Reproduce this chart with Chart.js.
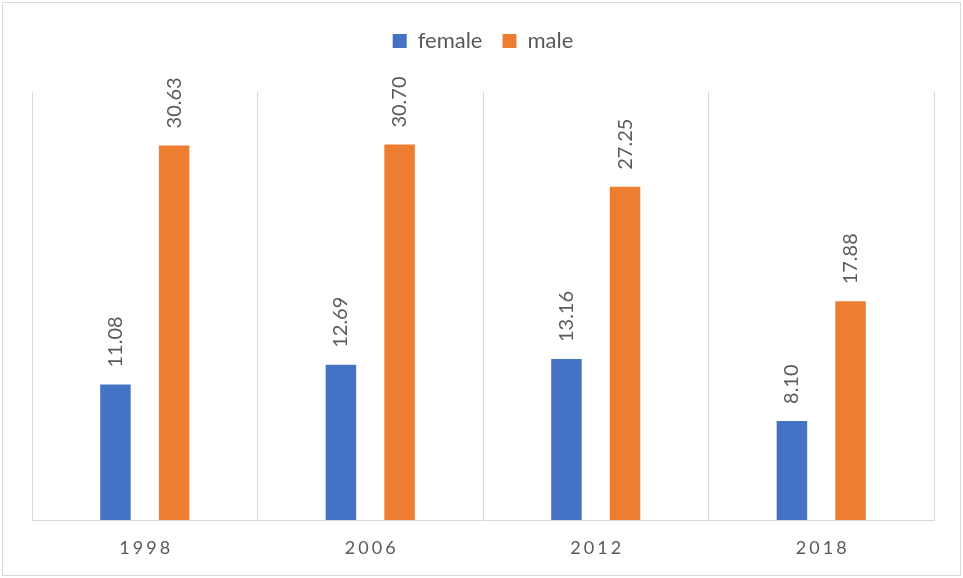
<!DOCTYPE html>
<html>
<head>
<meta charset="utf-8">
<script src="https://cdn.jsdelivr.net/npm/chart.js@4.4.1/dist/chart.umd.min.js"></script>
<style>
  body { margin: 0; background: #fff; }
  canvas { display: block; }
</style>
</head>
<body>
<canvas id="chart" width="963" height="578"></canvas>
<script>
const years = ["1998", "2006", "2012", "2018"];
const female = [11.08, 12.69, 13.16, 8.10];
const male = [30.63, 30.70, 27.25, 17.88];

const textGray = "#595959";
const fontName = "Lato, 'Noto Sans', sans-serif";

// frame around the whole chart, like the Excel chart border
const framePlugin = {
  id: "frame",
  beforeInit(chart) {
    // push the plot area down below the legend
    const fit = chart.legend.fit;
    chart.legend.fit = function () {
      fit.call(this);
      this.height += 30;
    };
  },
  beforeDraw(chart) {
    const ctx = chart.ctx;
    ctx.save();
    ctx.fillStyle = "#fff";
    ctx.fillRect(0, 0, chart.width, chart.height);
    ctx.strokeStyle = "#d9d9d9";
    ctx.lineWidth = 1;
    ctx.strokeRect(2.5, 2.5, chart.width - 5, chart.height - 5);
    ctx.restore();
  }
};

// rotated value labels above bars + spaced year labels
const labelPlugin = {
  id: "labels",
  afterDatasetsDraw(chart) {
    const ctx = chart.ctx;
    ctx.save();
    ctx.fillStyle = textGray;
    ctx.font = "20px " + fontName;
    chart.data.datasets.forEach((ds, i) => {
      chart.getDatasetMeta(i).data.forEach((bar, j) => {
        ctx.save();
        ctx.translate(bar.x, bar.y - 17);
        ctx.rotate(-Math.PI / 2);
        ctx.textAlign = "left";
        ctx.textBaseline = "middle";
        ctx.fillText(ds.data[j].toFixed(2), 0, 0);
        ctx.restore();
      });
    });

    const xs = chart.scales.x;
    ctx.font = "18px " + fontName;
    ctx.letterSpacing = "3px";
    ctx.textAlign = "center";
    ctx.textBaseline = "middle";
    chart.data.labels.forEach((lab, k) => {
      ctx.fillText(lab, xs.getPixelForTick(k) + 1.5, 548);
    });
    ctx.restore();
  }
};

new Chart(document.getElementById("chart"), {
  type: "bar",
  data: {
    labels: years,
    datasets: [
      { label: "female", data: female, backgroundColor: "#4472C4",
        categoryPercentage: 0.52, barPercentage: 0.52 },
      { label: "male", data: male, backgroundColor: "#ED7D31",
        categoryPercentage: 0.52, barPercentage: 0.52 }
    ]
  },
  options: {
    responsive: false,
    animation: false,
    layout: { padding: { left: 32, right: 29, top: 10, bottom: 58 } },
    plugins: {
      legend: {
        position: "top",
        labels: {
          boxWidth: 14,
          boxHeight: 14,
          padding: 20,
          color: textGray,
          font: { family: fontName, size: 22 }
        }
      },
      tooltip: { enabled: false }
    },
    scales: {
      x: {
        grid: { color: "#d9d9d9", drawTicks: false, offset: true },
        border: { color: "#d9d9d9" },
        ticks: { display: false }
      },
      y: { display: false, min: 0, max: 35 }
    }
  },
  plugins: [framePlugin, labelPlugin]
});
</script>
</body>
</html>
